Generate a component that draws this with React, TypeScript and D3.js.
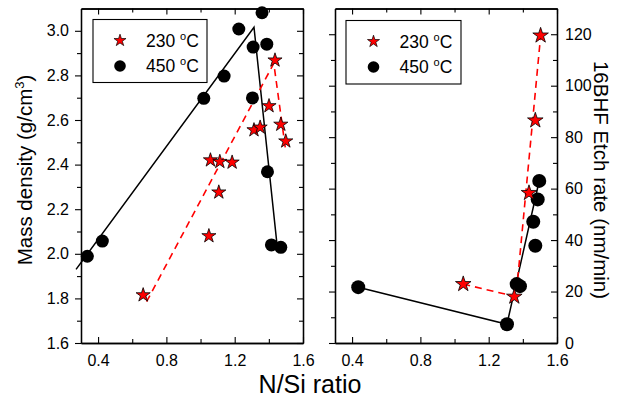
import React, { useEffect, useRef } from 'react';
import * as d3 from 'd3';

// left panel: mass density vs N/Si
const densStarX = [0.664, 1.049, 1.058, 1.113, 1.107, 1.185, 1.313, 1.349, 1.401, 1.436, 1.47, 1.499];
const densStarY = [1.815, 2.08, 2.42, 2.413, 2.276, 2.41, 2.555, 2.567, 2.663, 2.868, 2.58, 2.505];
const densDotX = [0.337, 0.425, 1.019, 1.138, 1.224, 1.308, 1.36, 1.388, 1.304, 1.392, 1.415, 1.47];
const densDotY = [1.989, 2.057, 2.697, 2.797, 3.008, 2.927, 3.081, 2.94, 2.699, 2.368, 2.04, 2.029];
const densDotFitX = [0.271, 1.313, 1.448];
const densDotFitY = [1.93, 3.016, 2.04];
const densStarFitX = [0.684, 1.429, 1.499];
const densStarFitY = [1.785, 2.854, 2.461];

// right panel: etch rate vs N/Si
const etchStarX = [1.051, 1.35, 1.436, 1.473, 1.504];
const etchStarY = [22.9, 18, 58.3, 86.5, 119.5];
const etchDotX = [0.436, 1.307, 1.364, 1.383, 1.461, 1.473, 1.487, 1.496];
const etchDotY = [21.7, 7.3, 22.9, 22.1, 47.1, 37.8, 55.8, 63];
const etchDotFitX = [0.436, 1.307, 1.49];
const etchDotFitY = [21.7, 7.3, 61.3];
const etchStarFitX = [1.051, 1.36, 1.505];
const etchStarFitY = [22.9, 18, 120];

const xMajor = [0.4, 0.8, 1.2, 1.6];
const xMinor = [0.6, 1.0, 1.4];
const densMajor = [1.6, 1.8, 2.0, 2.2, 2.4, 2.6, 2.8, 3.0];
const densMinor = [1.7, 1.9, 2.1, 2.3, 2.5, 2.7, 2.9];
const etchMajor = [0, 20, 40, 60, 80, 100, 120];
const etchMinor = [10, 30, 50, 70, 90, 110];

const legendLabels = ['230', '450'];

const FONT = 'Arial, "Liberation Sans", sans-serif';
const RED = '#ff0000';

function zip(xs: number[], ys: number[]) {
  return xs.map((x, i) => [x, ys[i]] as [number, number]);
}

function App() {
  const ref = useRef<SVGSVGElement>(null);

  useEffect(() => {
    const svg = d3.select(ref.current);
    svg.selectAll('*').remove();

    const top = 8.5, bottom = 343;
    const panels = [
      {
        left: 81, right: 303, yDomain: [1.6, 3.1], yMajor: densMajor, yMinor: densMinor, labelSide: 'left',
        stars: zip(densStarX, densStarY), dots: zip(densDotX, densDotY),
        dotFit: zip(densDotFitX, densDotFitY), starFit: zip(densStarFitX, densStarFitY),
        fmt: d3.format('.1f'), starR: 62, dotR: 6.5,
        legend: { x: 93, y: 19.5, w: 114, h: 63, sx: 120 },
      },
      {
        left: 335, right: 557, yDomain: [0, 130], yMajor: etchMajor, yMinor: etchMinor, labelSide: 'right',
        stars: zip(etchStarX, etchStarY), dots: zip(etchDotX, etchDotY),
        dotFit: zip(etchDotFitX, etchDotFitY), starFit: zip(etchStarFitX, etchStarFitY),
        fmt: d3.format('d'), starR: 75, dotR: 7,
        legend: { x: 346, y: 20.5, w: 115, h: 63.5, sx: 373.5 },
      },
    ];

    panels.forEach((p) => {
      const x = d3.scaleLinear().domain([0.3, 1.6]).range([p.left, p.right]);
      const y = d3.scaleLinear().domain(p.yDomain).range([bottom, top]);
      const g = svg.append('g');

      const styleAxis = (sel: any) => {
        sel.select('.domain').attr('stroke', '#000').attr('stroke-width', 1.3);
        sel.selectAll('.tick line').attr('stroke', '#000').attr('stroke-width', 1.1);
        sel.selectAll('text').attr('font-family', FONT).attr('font-size', 16).attr('fill', '#000');
      };

      // bottom
      g.append('g').attr('transform', `translate(0,${bottom})`)
        .call(d3.axisBottom(x).tickValues(xMajor).tickSize(-6).tickPadding(12).tickSizeOuter(0).tickFormat(d3.format('.1f') as any))
        .call(styleAxis);
      g.append('g').attr('transform', `translate(0,${bottom})`)
        .call(d3.axisBottom(x).tickValues(xMinor).tickSize(-4).tickSizeOuter(0).tickFormat(() => ''))
        .call(styleAxis);
      // top
      g.append('g').attr('transform', `translate(0,${top})`)
        .call(d3.axisTop(x).tickValues(xMajor).tickSize(-6).tickSizeOuter(0).tickFormat(() => ''))
        .call(styleAxis);
      g.append('g').attr('transform', `translate(0,${top})`)
        .call(d3.axisTop(x).tickValues(xMinor).tickSize(-4).tickSizeOuter(0).tickFormat(() => ''))
        .call(styleAxis);
      // left (outward ticks)
      g.append('g').attr('transform', `translate(${p.left},0)`)
        .call(d3.axisLeft(y).tickValues(p.yMajor).tickSize(6).tickPadding(6).tickSizeOuter(0)
          .tickFormat(p.labelSide === 'left' ? (p.fmt as any) : () => ''))
        .call(styleAxis);
      g.append('g').attr('transform', `translate(${p.left},0)`)
        .call(d3.axisLeft(y).tickValues(p.yMinor).tickSize(4).tickSizeOuter(0).tickFormat(() => ''))
        .call(styleAxis);
      // right (inward ticks)
      g.append('g').attr('transform', `translate(${p.right},0)`)
        .call(d3.axisRight(y).tickValues(p.yMajor).tickSize(-6).tickPadding(8).tickSizeOuter(0)
          .tickFormat(p.labelSide === 'right' ? (p.fmt as any) : () => ''))
        .call(styleAxis);
      g.append('g').attr('transform', `translate(${p.right},0)`)
        .call(d3.axisRight(y).tickValues(p.yMinor).tickSize(-4).tickSizeOuter(0).tickFormat(() => ''))
        .call(styleAxis);

      const line = d3.line<[number, number]>().x((d) => x(d[0])).y((d) => y(d[1]));
      g.append('path').attr('d', line(p.dotFit)).attr('fill', 'none').attr('stroke', '#000').attr('stroke-width', 1.5);
      g.append('path').attr('d', line(p.starFit)).attr('fill', 'none').attr('stroke', RED)
        .attr('stroke-width', 1.6).attr('stroke-dasharray', '7,5');

      g.selectAll('.dot').data(p.dots).enter().append('circle')
        .attr('cx', (d) => x(d[0])).attr('cy', (d) => y(d[1])).attr('r', p.dotR).attr('fill', '#000');

      const star = d3.symbol().type(d3.symbolStar).size(p.starR);
      g.selectAll('.star').data(p.stars).enter().append('path')
        .attr('d', star as any)
        .attr('transform', (d) => `translate(${x(d[0])},${y(d[1])})`)
        .attr('fill', RED).attr('stroke', '#000').attr('stroke-width', 0.8);

      // legend
      const L = p.legend;
      g.append('rect').attr('x', L.x).attr('y', L.y).attr('width', L.w).attr('height', L.h)
        .attr('fill', '#fff').attr('stroke', '#000').attr('stroke-width', 1.1);
      const smallStar = d3.symbol().type(d3.symbolStar).size(45);
      g.append('path').attr('d', smallStar() as string)
        .attr('transform', `translate(${L.sx},${L.y + 21})`)
        .attr('fill', RED).attr('stroke', '#000').attr('stroke-width', 0.7);
      g.append('circle').attr('cx', L.sx).attr('cy', L.y + 46.5).attr('r', 5.8).attr('fill', '#000');
      legendLabels.forEach((lab, i) => {
        const t = g.append('text').attr('x', L.sx + 26).attr('y', L.y + 27 + i * 25.5)
          .attr('font-family', FONT).attr('font-size', 17.5).attr('fill', '#000');
        t.append('tspan').text(`${lab} `);
        t.append('tspan').attr('dy', -7).attr('font-size', 11).text('o');
        t.append('tspan').attr('dy', 7).text('C');
      });
    });

    // axis titles
    const yl = svg.append('text').attr('transform', 'translate(32,170) rotate(-90)')
      .attr('text-anchor', 'middle').attr('font-family', FONT).attr('font-size', 20.5).attr('fill', '#000');
    yl.append('tspan').text('Mass density (g/cm');
    yl.append('tspan').attr('dy', -8).attr('font-size', 13).text('3');
    yl.append('tspan').attr('dy', 8).text(')');

    svg.append('text').attr('transform', 'translate(594,180) rotate(90)')
      .attr('text-anchor', 'middle').attr('font-family', FONT).attr('font-size', 20.5).attr('fill', '#000')
      .text('16BHF Etch rate (nm/min)');

    svg.append('text').attr('x', 310).attr('y', 393)
      .attr('text-anchor', 'middle').attr('font-family', FONT).attr('font-size', 25).attr('fill', '#000')
      .text('N/Si ratio');
  }, []);

  return (
    <svg ref={ref} width={617} height={405}
      style={{ position: 'absolute', left: 0, top: 0, background: '#fff' }} />
  );
}

export default App;
